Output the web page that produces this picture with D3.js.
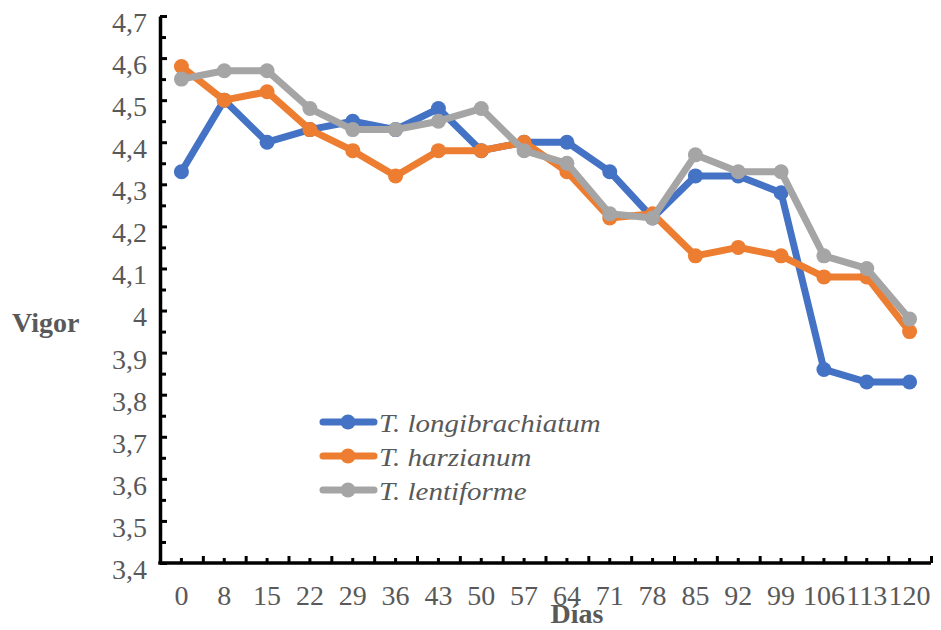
<!DOCTYPE html>
<html>
<head>
<meta charset="utf-8">
<script src="https://cdn.jsdelivr.net/npm/d3@7"></script>
<style>
  html, body { margin: 0; padding: 0; background: #fff; }
  svg { display: block; }
  text { font-family: "Liberation Serif", "Times New Roman", serif; }
</style>
</head>
<body>
<svg id="chart" width="941" height="630"></svg>
<script>
const dias = ["0","8","15","22","29","36","43","50","57","64","71","78","85","92","99","106","113","120"];
const longibrachiatum = [4.33,4.50,4.40,4.43,4.45,4.43,4.48,4.38,4.40,4.40,4.33,4.22,4.32,4.32,4.28,3.86,3.83,3.83];
const harzianum       = [4.58,4.50,4.52,4.43,4.38,4.32,4.38,4.38,4.40,4.33,4.22,4.23,4.13,4.15,4.13,4.08,4.08,3.95];
const lentiforme      = [4.55,4.57,4.57,4.48,4.43,4.43,4.45,4.48,4.38,4.35,4.23,4.22,4.37,4.33,4.33,4.13,4.10,3.98];
const seriesNames  = ["T. longibrachiatum","T. harzianum","T. lentiforme"];
const seriesColors = ["#4472C4","#ED7D31","#A5A5A5"];
const yTicks = [3.4,3.5,3.6,3.7,3.8,3.9,4.0,4.1,4.2,4.3,4.4,4.5,4.6,4.7];

const series = [longibrachiatum, harzianum, lentiforme];
const svg = d3.select("#chart");
const mLeft = 160, mRight = 931, mTop = 16, mBottom = 563;
const textColor = "#595959";

const x = d3.scaleBand().domain(dias).range([mLeft, mRight]);
const xb = d3.scaleLinear().domain([0, dias.length]).range([mLeft, mRight]);
const y = d3.scaleLinear().domain([3.4, 4.7]).range([mBottom, mTop]);

const fmt = v => (Math.round(v * 10) / 10).toString().replace(".", ",");

// Y axis minor ticks
const minor = d3.range(3.45, 4.7, 0.1);
svg.append("g").attr("transform", `translate(${mLeft},0)`)
  .call(d3.axisLeft(y).tickValues(minor).tickSize(-6).tickFormat(""))
  .call(g => g.select(".domain").remove())
  .call(g => g.selectAll("line").attr("stroke", "#000").attr("stroke-width", 3));

// Y axis major
const yAxisG = svg.append("g").attr("transform", `translate(${mLeft},0)`)
  .call(d3.axisLeft(y).tickValues(yTicks).tickSize(-7).tickSizeOuter(0).tickPadding(13).tickFormat(fmt));
yAxisG.select(".domain").attr("stroke", "#000").attr("stroke-width", 3.5);
yAxisG.selectAll("line").attr("stroke", "#000").attr("stroke-width", 3);
yAxisG.selectAll("text").attr("fill", textColor).attr("font-size", 28)
  .attr("dy", "0.55em")
  .style("font-family", '"Liberation Serif", "Times New Roman", serif');

// X axis boundary ticks
svg.append("g").attr("transform", `translate(0,${mBottom})`)
  .call(d3.axisBottom(xb).tickValues(d3.range(dias.length + 1)).tickSize(-7).tickFormat(""))
  .call(g => g.select(".domain").remove())
  .call(g => g.selectAll("line").attr("stroke", "#000").attr("stroke-width", 3));

// X axis center ticks + labels
const xAxisG = svg.append("g").attr("transform", `translate(0,${mBottom})`)
  .call(d3.axisBottom(x).tickSize(-5).tickSizeOuter(0).tickPadding(0));
xAxisG.select(".domain").attr("stroke", "#000").attr("stroke-width", 3.5)
  .attr("d", `M${mLeft - 1.75},0H${mRight}`);
xAxisG.selectAll("line").attr("stroke", "#000").attr("stroke-width", 3);
xAxisG.selectAll("text").attr("fill", textColor).attr("font-size", 28)
  .attr("y", 42).attr("dy", 0)
  .style("font-family", '"Liberation Serif", "Times New Roman", serif');

// Lines
const line = d3.line().x((d, i) => x(dias[i]) + x.bandwidth() / 2).y(d => y(d));
series.forEach((s, k) => {
  const g = svg.append("g");
  g.append("path").datum(s).attr("d", line)
    .attr("fill", "none").attr("stroke", seriesColors[k])
    .attr("stroke-width", 7).attr("stroke-linejoin", "round").attr("stroke-linecap", "round");
  g.selectAll("circle").data(s).join("circle")
    .attr("cx", (d, i) => x(dias[i]) + x.bandwidth() / 2)
    .attr("cy", d => y(d))
    .attr("r", 7.5)
    .attr("fill", seriesColors[k]);
});

// Axis titles
svg.append("text").attr("x", 12).attr("y", 332).text("Vigor")
  .attr("font-size", 28).attr("font-weight", "bold").attr("fill", textColor);
svg.append("text").attr("x", 577).attr("y", 623).attr("text-anchor", "middle").text("Días")
  .attr("font-size", 28).attr("font-weight", "bold").attr("fill", textColor);

// Legend
const legY = [422, 456, 490];
seriesNames.forEach((name, k) => {
  const g = svg.append("g").attr("transform", `translate(0,${legY[k]})`);
  g.append("line").attr("x1", 323).attr("x2", 374).attr("y1", 0).attr("y2", 0)
    .attr("stroke", seriesColors[k]).attr("stroke-width", 7).attr("stroke-linecap", "round");
  g.append("circle").attr("cx", 348).attr("cy", 0).attr("r", 7.5).attr("fill", seriesColors[k]);
  g.append("text").attr("transform", "translate(379,10) scale(1.16,1)").text(name)
    .attr("font-size", 25).attr("font-style", "italic").attr("fill", textColor);
});
</script>
</body>
</html>
